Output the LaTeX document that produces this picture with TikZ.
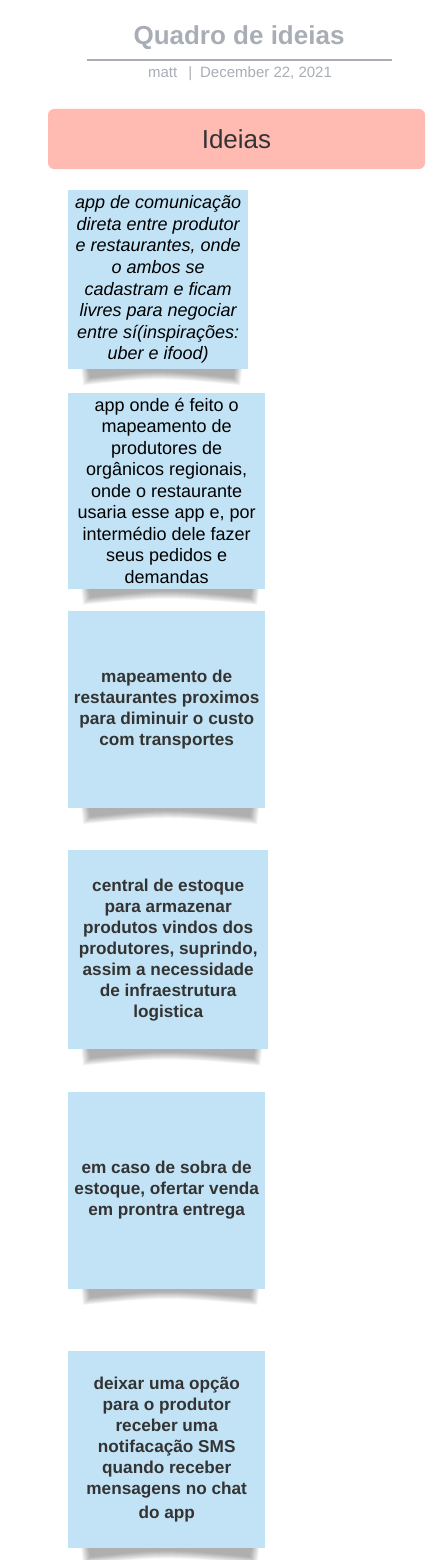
\documentclass[tikz,border=0pt]{standalone}
\usepackage{fontspec}
\setmainfont{Liberation Sans}
\usepackage{tikz}
\usetikzlibrary{positioning,backgrounds}
\definecolor{titlegray}{HTML}{A8ADB6}
\definecolor{notefill}{HTML}{C2E3F5}
\definecolor{notetext}{HTML}{333333}
\definecolor{barfill}{HTML}{FFBBB1}

\begin{document}
\begin{tikzpicture}[x = 1pt, y = -1pt,
  note/.style = {fill = notefill, shape = rectangle, inner sep = 0pt, align = center, anchor = north west, font = \fontsize{18pt}{21.5pt}\selectfont},
  boldnote/.style = {note, text = notetext, font = \fontsize{17.2pt}{21pt}\selectfont\bfseries}]
\useasboundingbox (0,0) rectangle (436,1560);
\node[text = titlegray, font = \fontsize{26pt}{30pt}\selectfont\bfseries] (title) at (239,38) {Quadro de ideias};
\coordinate (ruleL) at (87,60);
\coordinate (ruleR) at (392,60);
\draw[titlegray, line width = 1.6pt] (ruleL) -- (ruleR);
\node[text = titlegray, font = \fontsize{15pt}{17pt}\selectfont] (sub) at (240,74) {matt\hspace{11pt}|\hspace{8pt}December 22, 2021};
\node[fill = barfill, shape = rectangle, rounded corners = 6pt, minimum width = 377pt, minimum height = 60pt, text = notetext, font = \fontsize{26pt}{30pt}\selectfont] (ideias) at (236.5,139) {Ideias};
\node[note, minimum width = 180pt, minimum height = 179pt, font = \fontsize{18pt}{21.6pt}\selectfont\itshape] (n1) at (68,190) {app de comunicação\\ direta entre produtor\\ e restaurantes, onde\\ o ambos se\\ cadastram e ficam\\ livres para negociar\\ entre sí(inspirações:\\ uber e ifood)};
\node[note, minimum width = 197pt, minimum height = 196pt, below = 23pt of n1.south west, anchor = north west] (n2) {app onde é feito o\\ mapeamento de\\ produtores de\\ orgânicos regionais,\\ onde o restaurante\\ usaria esse app e, por\\ intermédio dele fazer\\ seus pedidos e\\ demandas};
\node[boldnote, minimum width = 197pt, minimum height = 197pt, below = 22pt of n2.south west, anchor = north west] (n3) {mapeamento de\\ restaurantes proximos\\ para diminuir o custo\\ com transportes};
\node[boldnote, minimum width = 200pt, minimum height = 199pt, below = 42pt of n3.south west, anchor = north west] (n4) {central de estoque\\ para armazenar\\ produtos vindos dos\\ produtores, suprindo,\\ assim a necessidade\\ de infraestrutura\\ logistica};
\node[boldnote, minimum width = 197pt, minimum height = 197pt, below = 42pt of n4.south west, anchor = north west] (n5) {em caso de sobra de\\ estoque, ofertar venda\\ em prontra entrega};
\node[boldnote, minimum width = 197pt, minimum height = 197pt, below = 62pt of n5.south west, anchor = north west] (n6) {deixar uma opção\\ para o produtor\\ receber uma\\ notifacação SMS\\ quando receber\\ mensagens no chat\\[3pt] do app};
\begin{scope}[on background layer]
\foreach \n in {n1,n2,n3,n4,n5,n6}
  \foreach \s in {0,0.5,...,7.5}
    \fill[black, opacity = 0.025]
      ([xshift = {(13+\s)*1pt}, yshift = 1pt]\n.south west)
      -- ([xshift = {(15+\s)*1pt}, yshift = {(\s-16)*1pt}]\n.south west)
      .. controls ([yshift = {(\s-8)*1pt}]\n.south) .. ([xshift = {-(8+\s)*1pt}, yshift = {(\s-16)*1pt}]\n.south east)
      -- ([xshift = {-(6+\s)*1pt}, yshift = 1pt]\n.south east) -- cycle;
\end{scope}
\end{tikzpicture}
\end{document}
